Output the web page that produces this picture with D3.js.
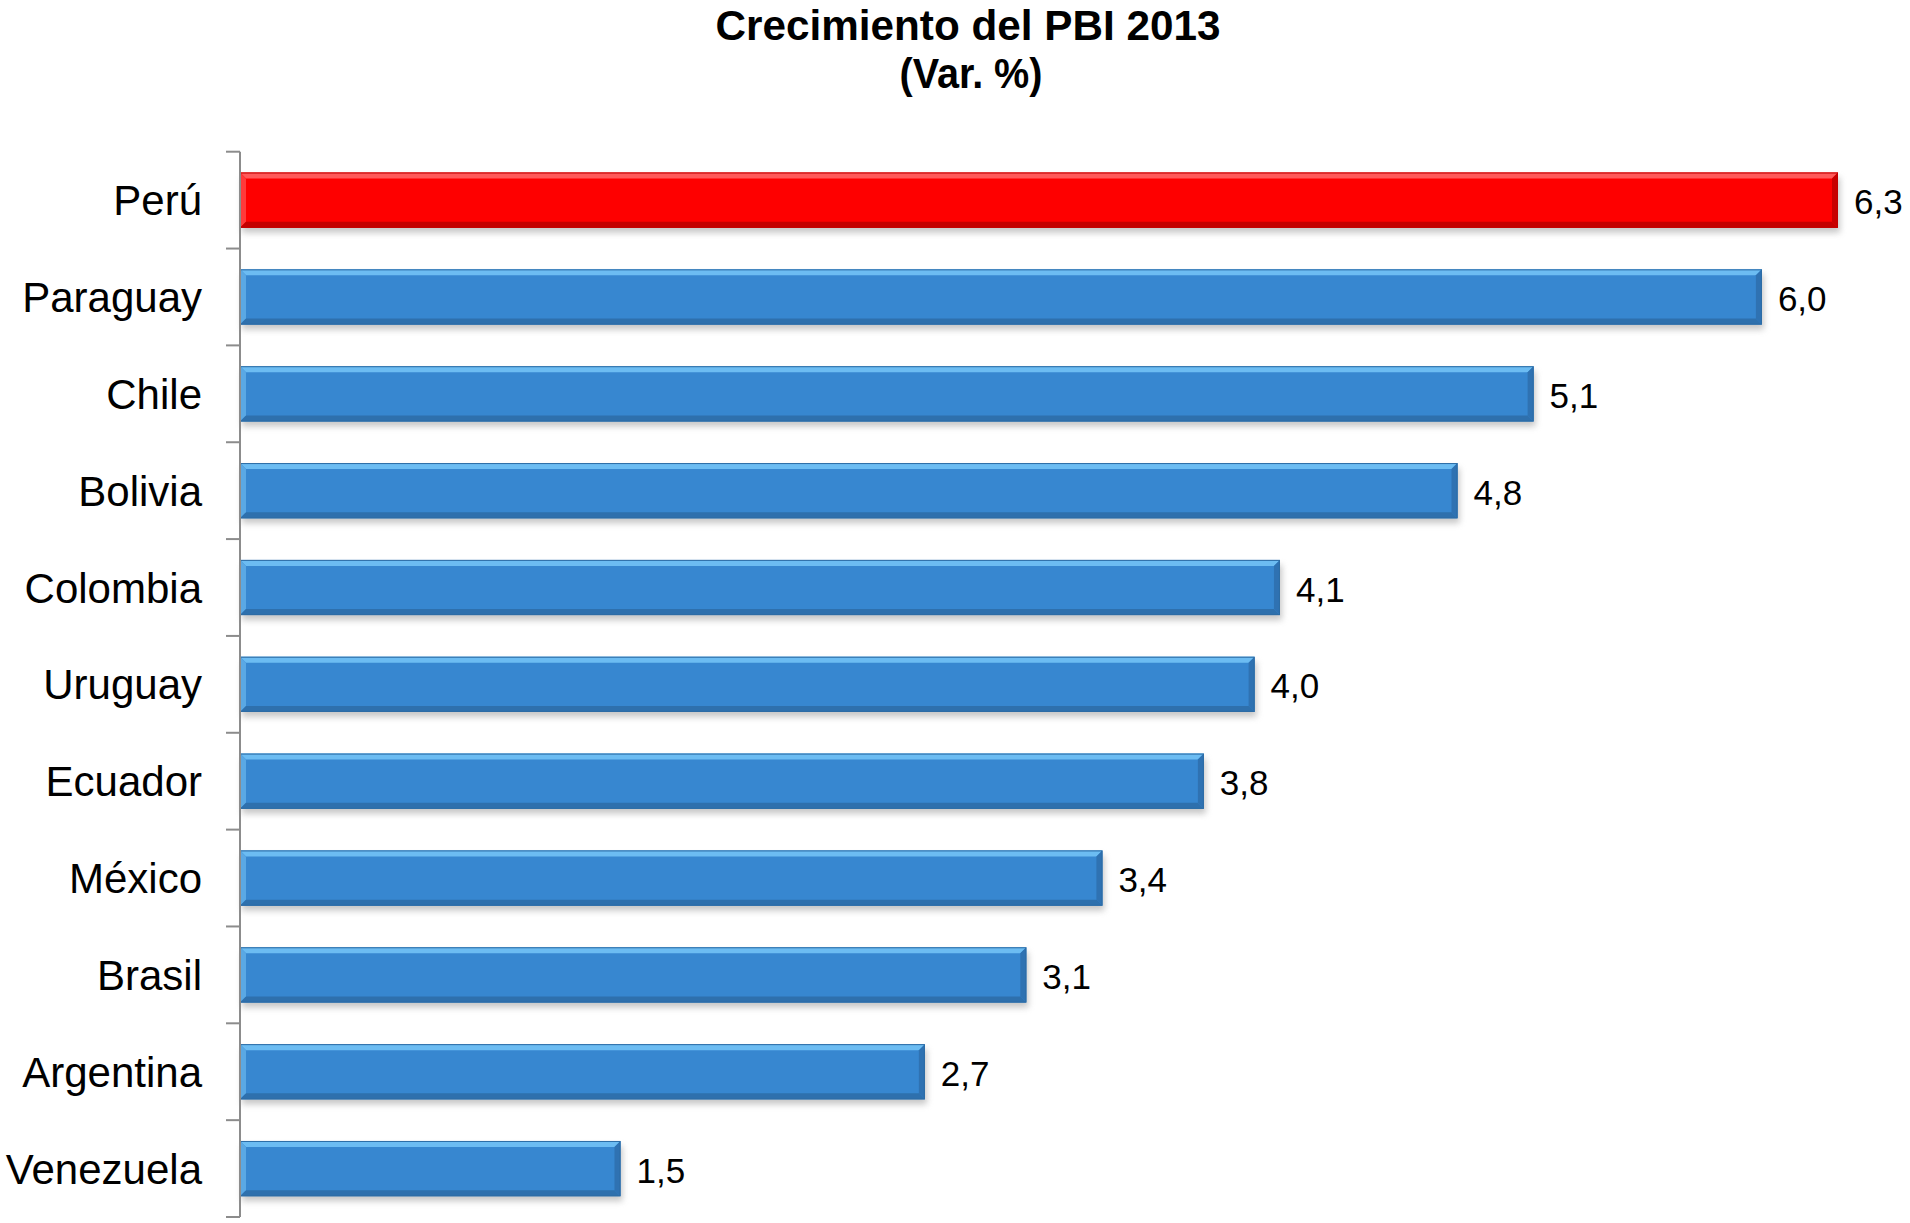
<!DOCTYPE html>
<html>
<head>
<meta charset="utf-8">
<script src="https://cdn.jsdelivr.net/npm/d3@7"></script>
<style>
html,body{margin:0;padding:0;background:#fff;}
svg{display:block;}
</style>
</head>
<body>
<svg id="chart" width="1910" height="1223"></svg>
<script>
const categories = ["Perú","Paraguay","Chile","Bolivia","Colombia","Uruguay","Ecuador","México","Brasil","Argentina","Venezuela"];
const values = [6.3,6.0,5.1,4.8,4.1,4.0,3.8,3.4,3.1,2.7,1.5];
const valueLabels = ["6,3","6,0","5,1","4,8","4,1","4,0","3,8","3,4","3,1","2,7","1,5"];
const highlight = ["Perú"];
const titleLines = ["Crecimiento del PBI 2013","(Var. %)"];

const svg = d3.select("#chart");
const defs = svg.append("defs");
const f = defs.append("filter").attr("id","shadow").attr("x","-5%").attr("y","-30%").attr("width","110%").attr("height","180%");
f.append("feGaussianBlur").attr("stdDeviation",3);

const x = d3.scaleLinear().domain([0, 6.3]).range([240, 1838]);
const y = d3.scaleBand().domain(categories).range([151.7, 1217]).paddingInner(0.43).paddingOuter(0.215);

const pal = {
  blue: {main:"#3787d0", light:"#6cbcf2", lightL:"#5aa8e4", dark:"#2e70ad", darkR:"#2f72b2", stroke:"#2d6ca5"},
  red:  {main:"#fe0000", light:"#ff5a5a", lightL:"#ff3a3a", dark:"#c40000", darkR:"#c80000", stroke:"#c00000"}
};

// shadows
svg.append("g").selectAll("rect").data(categories).join("rect")
  .attr("x", x(0)+2)
  .attr("y", d => y(d)+5)
  .attr("width", (d,i) => x(values[i]) - x(0))
  .attr("height", y.bandwidth())
  .attr("fill", "#9a9a9a")
  .attr("opacity", 0.55)
  .attr("filter","url(#shadow)");

const bars = svg.append("g").selectAll("g").data(categories).join("g");
const b = 6;
bars.each(function(d,i){
  const g = d3.select(this);
  const c = highlight.includes(d) ? pal.red : pal.blue;
  const x0 = x(0), x1 = x(values[i]), y0 = y(d), y1 = y(d)+y.bandwidth();
  g.append("rect").attr("x",x0).attr("y",y0).attr("width",x1-x0).attr("height",y1-y0).attr("fill",c.main);
  const poly = pts => pts.map(p=>p.join(",")).join(" ");
  g.append("polygon").attr("points",poly([[x0,y0],[x1,y0],[x1-b,y0+b],[x0+b,y0+b]])).attr("fill",c.light);
  g.append("polygon").attr("points",poly([[x0,y0],[x0+b,y0+b],[x0+b,y1-b],[x0,y1]])).attr("fill",c.lightL);
  g.append("polygon").attr("points",poly([[x0,y1],[x0+b,y1-b],[x1-b,y1-b],[x1,y1]])).attr("fill",c.dark);
  g.append("polygon").attr("points",poly([[x1,y0],[x1,y1],[x1-b,y1-b],[x1-b,y0+b]])).attr("fill",c.darkR);
  g.append("rect").attr("x",x0+0.5).attr("y",y0+0.5).attr("width",x1-x0-1).attr("height",y1-y0-1)
    .attr("fill","none").attr("stroke",c.stroke).attr("stroke-width",1);
});

// axis line and boundary ticks
const ax = svg.append("g").attr("stroke","#8c8c8c").attr("stroke-width",2);
const r = y.range();
ax.append("line").attr("x1",x(0)).attr("x2",x(0)).attr("y1",r[0]).attr("y2",r[1]);
const bounds = d3.range(categories.length+1).map(i => r[0] + i*y.step());
ax.selectAll("line.t").data(bounds).join("line").attr("class","t")
  .attr("x1",x(0)-14).attr("x2",x(0)).attr("y1",d=>d).attr("y2",d=>d);

// category labels
svg.append("g").selectAll("text").data(categories).join("text")
  .attr("x", 202)
  .attr("y", d => y(d)+y.bandwidth()/2)
  .attr("dy","0.36em")
  .attr("text-anchor","end")
  .attr("font-family","'Liberation Sans', Arial, sans-serif")
  .attr("font-size",42)
  .attr("fill","#000")
  .text(d=>d);

// value labels
svg.append("g").selectAll("text").data(categories).join("text")
  .attr("x", (d,i) => x(values[i]) + 16)
  .attr("y", d => y(d)+y.bandwidth()/2)
  .attr("dy","0.40em")
  .attr("font-family","'Liberation Sans', Arial, sans-serif")
  .attr("font-size",35)
  .attr("fill","#000")
  .text((d,i)=>valueLabels[i]);

// title
const tl = svg.append("g").attr("font-family","'Liberation Sans',Arial,sans-serif")
  .attr("font-weight","bold").attr("font-size",43).attr("text-anchor","middle").attr("fill","#000");
tl.append("text").attr("x",968).attr("y",40).attr("textLength",505).attr("lengthAdjust","spacingAndGlyphs").text(titleLines[0]);
tl.append("text").attr("x",971).attr("y",88).attr("textLength",143).attr("lengthAdjust","spacingAndGlyphs").text(titleLines[1]);
</script>
</body>
</html>
